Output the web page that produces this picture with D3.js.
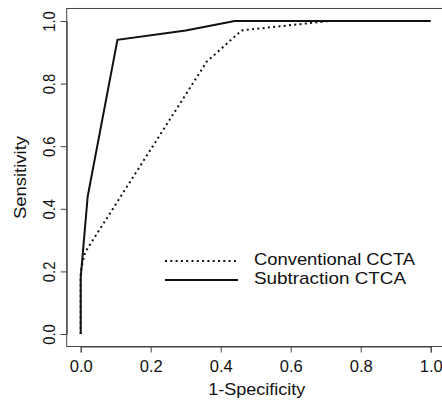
<!DOCTYPE html>
<html lang="en">
<head>
<meta charset="utf-8">
<script src="https://d3js.org/d3.v7.min.js"></script>
<style>
  body { margin: 0; background: #fff; }
  text { font-family: "Liberation Sans", Arial, sans-serif; fill: #111; }
</style>
</head>
<body>
<div class="chart"></div>
<script>

var w = 442;
var h = 404;

// ROC points
var subFpr  = [0, 0, 0.02, 0.105, 0.30, 0.44, 1];
var subSens = [0, 0.18, 0.44, 0.94, 0.97, 1, 1];

var convFpr  = [0, 0, 0.012, 0.36, 0.46, 0.71, 1];
var convSens = [0, 0.2, 0.26, 0.87, 0.97, 1, 1];

var xTicks = [0, 0.2, 0.4, 0.6, 0.8, 1.0];
var yTicks = [0, 0.2, 0.4, 0.6, 0.8, 1.0];

var legendLabels = ["Conventional CCTA", "Subtraction CTCA"];
var legendDash   = ["2,3.3", null];
var legendWidth  = [161, 152];

var svg = d3.select(".chart")
            .append("svg")
            .attr("width", w)
            .attr("height", h);

var x = d3.scaleLinear().domain([0, 1]).range([80.7, 430.7]);
var y = d3.scaleLinear().domain([0, 1]).range([334, 21]);

var frameCol = "#444";

// plot frame (R style, 4% padding)
svg.append("rect")
   .attr("x", x(-0.04))
   .attr("y", y(1.04))
   .attr("width", x(1.04) - x(-0.04))
   .attr("height", y(-0.04) - y(1.04))
   .attr("fill", "none")
   .attr("stroke", frameCol)
   .attr("stroke-width", 1);

// x axis
var xAxis = svg.append("g")
   .attr("transform", "translate(0," + y(-0.04) + ")")
   .call(d3.axisBottom(x).tickValues(xTicks).tickSize(6).tickPadding(8)
          .tickFormat(d3.format(".1f")));
xAxis.select(".domain").attr("stroke", frameCol);
xAxis.selectAll(".tick line").attr("stroke", frameCol);
xAxis.selectAll("text")
     .attr("font-size", "16px")
     .attr("fill", "#111")
     .attr("font-family", "Liberation Sans, Arial, sans-serif")
     .attr("textLength", 23)
     .attr("lengthAdjust", "spacingAndGlyphs");

// y axis, labels rotated like R
var yAxis = svg.append("g")
   .attr("transform", "translate(" + x(-0.04) + ",0)")
   .call(d3.axisLeft(y).tickValues(yTicks).tickSize(6)
          .tickFormat(d3.format(".1f")));
yAxis.select(".domain").attr("stroke", frameCol);
yAxis.selectAll(".tick line").attr("stroke", frameCol);
yAxis.selectAll("text")
     .attr("font-size", "17px")
     .attr("fill", "#111")
     .attr("font-family", "Liberation Sans, Arial, sans-serif")
     .attr("x", null).attr("dy", null)
     .attr("text-anchor", "middle")
     .attr("textLength", 20.5)
     .attr("lengthAdjust", "spacingAndGlyphs")
     .attr("transform", "translate(-12,0) rotate(-90)");

// axis titles
svg.append("text")
   .text("1-Specificity")
   .attr("x", (x(0) + x(1)) / 2 + 1)
   .attr("y", 395)
   .attr("text-anchor", "middle")
   .attr("font-size", "16.5px")
   .attr("textLength", 97)
   .attr("lengthAdjust", "spacingAndGlyphs");

svg.append("text")
   .text("Sensitivity")
   .attr("text-anchor", "middle")
   .attr("font-size", "17px")
   .attr("textLength", 83)
   .attr("lengthAdjust", "spacingAndGlyphs")
   .attr("transform", "translate(26," + ((y(-0.04) + y(1.04)) / 2) + ") rotate(-90)");

// curves
var line = d3.line()
   .x(function(d) { return x(d[0]); })
   .y(function(d) { return y(d[1]); });

var conv = convFpr.map(function(d, i) { return [d, convSens[i]]; });
var sub  = subFpr.map(function(d, i) { return [d, subSens[i]]; });

svg.append("path")
   .datum(conv)
   .attr("d", line)
   .attr("fill", "none")
   .attr("stroke", "#111")
   .attr("stroke-width", 2)
   .attr("stroke-dasharray", "2,3.3");

svg.append("path")
   .datum(sub)
   .attr("d", line)
   .attr("fill", "none")
   .attr("stroke", "#111")
   .attr("stroke-width", 2);

// legend
var legend = svg.selectAll("g.legend")
   .data(legendLabels)
   .enter().append("g")
   .attr("class", "legend")
   .attr("transform", function(d, i) { return "translate(165," + (261 + i * 19) + ")"; });

legend.append("line")
   .attr("x1", 0).attr("x2", 73)
   .attr("y1", 0).attr("y2", 0)
   .attr("stroke", "#111")
   .attr("stroke-width", 2)
   .attr("stroke-dasharray", function(d, i) { return legendDash[i]; });

legend.append("text")
   .text(function(d) { return d; })
   .attr("x", 89)
   .attr("y", 3.5)
   .attr("font-size", "17px")
   .attr("textLength", function(d, i) { return legendWidth[i]; })
   .attr("lengthAdjust", "spacingAndGlyphs");

</script>
</body>
</html>
